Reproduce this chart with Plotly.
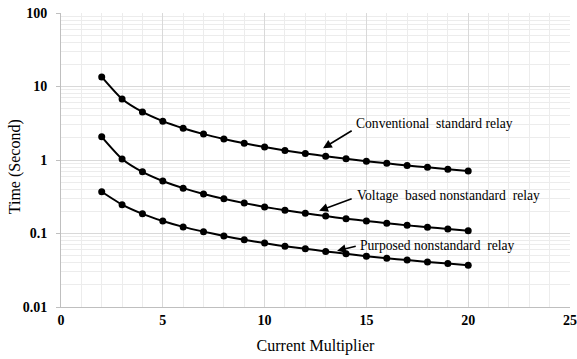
import plotly.graph_objects as go

multiplier = [2, 3, 4, 5, 6, 7, 8, 9, 10, 11, 12, 13, 14, 15, 16, 17, 18, 19, 20]
conventional = [13.5, 6.75, 4.5, 3.375, 2.7, 2.25, 1.93, 1.69, 1.5, 1.35, 1.23, 1.125,
                1.04, 0.964, 0.9, 0.844, 0.794, 0.75, 0.711]
voltage_based = [2.07, 1.035, 0.69, 0.518, 0.414, 0.345, 0.296, 0.259, 0.23, 0.207, 0.188,
                 0.1725, 0.159, 0.148, 0.138, 0.129, 0.122, 0.115, 0.109]
purposed = [0.37, 0.247, 0.185, 0.148, 0.123, 0.106, 0.0925, 0.082, 0.074, 0.067, 0.062,
            0.057, 0.053, 0.049, 0.046, 0.0435, 0.041, 0.039, 0.037]

series_names = ["Conventional standard relay", "Voltage based nonstandard relay",
                "Purposed nonstandard relay"]
labels = ["Conventional\u00a0 standard relay",
          "Voltage\u00a0 based nonstandard\u00a0 relay",
          "Purposed nonstandard\u00a0 relay"]

FONT = "Liberation Serif, Times New Roman, serif"

fig = go.Figure()
for name, vals in zip(series_names, [conventional, voltage_based, purposed]):
    fig.add_trace(go.Scatter(
        x=multiplier, y=vals, mode="lines+markers", name=name,
        line=dict(color="black", width=2, shape="spline", smoothing=0.6),
        marker=dict(color="black", size=7),
        showlegend=False))

# label text and arrows (x data, log10 y)
text_pos = [(14.4, 0.50), (14.45, -0.48), (14.6, -1.16)]
arrow_head = [(12.87, 0.16), (12.68, -0.69), (13.56, -1.236)]
arrow_tail = [(14.35, 0.41), (14.35, -0.52), (14.55, -1.168)]

for lab, (tx, ty) in zip(labels, text_pos):
    fig.add_annotation(x=tx, y=ty, xref="x", yref="y", text=lab, showarrow=False,
                       xanchor="left", yanchor="middle",
                       font=dict(family=FONT, size=13.6, color="black"))
for (hx, hy), (tx, ty) in zip(arrow_head, arrow_tail):
    fig.add_annotation(x=hx, y=hy, ax=tx, ay=ty, xref="x", yref="y", axref="x", ayref="y",
                       text="", showarrow=True, arrowhead=2, arrowsize=1.1,
                       arrowwidth=1.6, arrowcolor="black", standoff=0)

# y-axis title
fig.add_annotation(x=-0.09, y=0.476, xref="paper", yref="paper", text="Time (Second)",
                   showarrow=False, textangle=-90, xanchor="center", yanchor="middle",
                   font=dict(family=FONT, size=16, color="black"))

fig.update_layout(
    width=577, height=359,
    margin=dict(l=61, r=7, t=13, b=52),
    paper_bgcolor="white", plot_bgcolor="white",
    font=dict(family=FONT, color="black"),
)
fig.update_xaxes(
    range=[0, 25], dtick=5, tick0=0, automargin=False,
    showgrid=True, gridcolor="#d9d9d9", gridwidth=1,
    minor=dict(dtick=1, showgrid=True, gridcolor="#ececec", gridwidth=1),
    showline=True, linecolor="#bfbfbf", linewidth=1,
    ticks="", zeroline=False,
    tickfont=dict(family=FONT, size=14, color="black", weight="bold"),
    title=dict(text="Current Multiplier", font=dict(family=FONT, size=16, color="black"),
               standoff=13),
)
fig.update_yaxes(
    type="log", range=[-2, 2], dtick=1, automargin=False,
    tickvals=[0.01, 0.1, 1, 10, 100], ticktext=["0.01", "0.1", "1", "10", "100"],
    showgrid=True, gridcolor="#d9d9d9", gridwidth=1,
    minor=dict(dtick="D1", showgrid=True, gridcolor="#ececec", gridwidth=1),
    showline=True, linecolor="#bfbfbf", linewidth=1,
    ticks="outside", ticklen=4, tickcolor="#bfbfbf", ticklabelstandoff=6,
    zeroline=False,
    tickfont=dict(family=FONT, size=14, color="black", weight="bold"),
)

fig.write_html("out.html")
